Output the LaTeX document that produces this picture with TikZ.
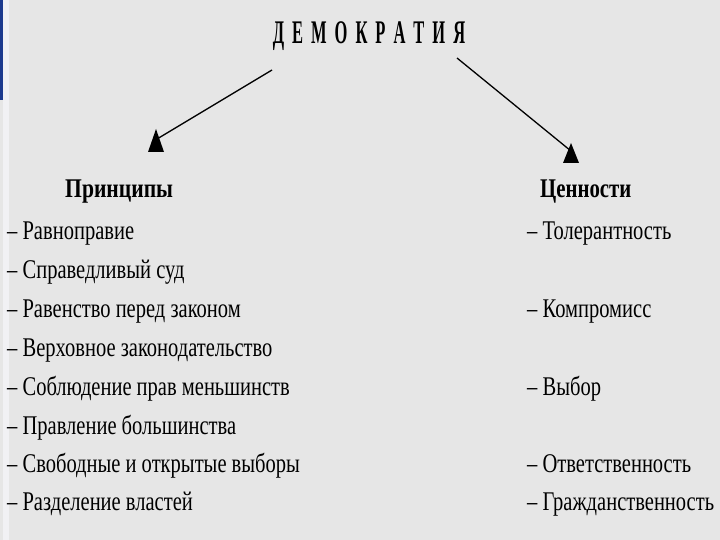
\documentclass[tikz,border=0pt]{standalone}
\usepackage{fontspec}
\setmainfont{Liberation Serif}
\definecolor{bgc}{HTML}{E6E6E6}
\definecolor{navy}{HTML}{1C3A8E}
\definecolor{edge}{HTML}{F1F1F4}
\begin{document}
\begin{tikzpicture}[x=1pt,y=-1pt,
  item/.style={anchor=base west, inner sep=0pt, font=\fontsize{27}{32}\selectfont},
  head/.style={anchor=base west, inner sep=0pt, font=\bfseries\fontsize{27}{32}\selectfont},
  conn/.style={line width=1.3pt, black},
  tipmark/.style={fill=black}]
\useasboundingbox (0,0) rectangle (720,540);
\fill[bgc] (0,0) rectangle (720,540);
\fill[edge] (3,0) rectangle (9,540);
\fill[navy] (0,0) rectangle (3,100);

\node[anchor=base, inner sep=0pt, font=\bfseries\fontsize{33}{36}\selectfont] (demo) at (369,44)
  {\scalebox{0.5}[1]{Д\kern16ptЕ\kern16ptМ\kern16ptО\kern16ptК\kern16ptР\kern16ptА\kern16ptТ\kern16ptИ\kern16ptЯ}};

\coordinate (ls) at (272,70);
\coordinate (le) at (157,139);
\coordinate (rs) at (457,58);
\coordinate (re) at (571,151);
\draw[conn] (ls) -- (le);
\draw[conn] (rs) -- (re);
\fill[tipmark] (le) ++(-1,-10) -- ++(8,23) -- ++(-16,0) -- cycle;
\fill[tipmark] (re) ++(0,-8) -- ++(8,20) -- ++(-16,0) -- cycle;

\node[head] (pr) at (65,198) {\scalebox{0.8}[1]{Принципы}};
\node[head] (val) at (540,198) {\scalebox{0.77}[1]{Ценности}};

\node[item] (p1) at (7,240) {\scalebox{0.76}[1]{– Равноправие}};
\node[item] (p2) at (7,278) {\scalebox{0.76}[1]{– Справедливый суд}};
\node[item] (p3) at (7,317) {\scalebox{0.76}[1]{– Равенство перед законом}};
\node[item] (p4) at (7,356) {\scalebox{0.76}[1]{– Верховное законодательство}};
\node[item] (p5) at (7,395) {\scalebox{0.76}[1]{– Соблюдение прав меньшинств}};
\node[item] (p6) at (7,434) {\scalebox{0.76}[1]{– Правление большинства}};
\node[item] (p7) at (7,472) {\scalebox{0.76}[1]{– Свободные и открытые выборы}};
\node[item] (p8) at (7,510) {\scalebox{0.76}[1]{– Разделение властей}};

\node[item] (v1) at (527,240) {\scalebox{0.76}[1]{– Толерантность}};
\node[item] (v2) at (527,317) {\scalebox{0.76}[1]{– Компромисс}};
\node[item] (v3) at (527,395) {\scalebox{0.76}[1]{– Выбор}};
\node[item] (v4) at (527,472) {\scalebox{0.76}[1]{– Ответственность}};
\node[item] (v5) at (527,510) {\scalebox{0.76}[1]{– Гражданственность}};
\end{tikzpicture}
\end{document}
